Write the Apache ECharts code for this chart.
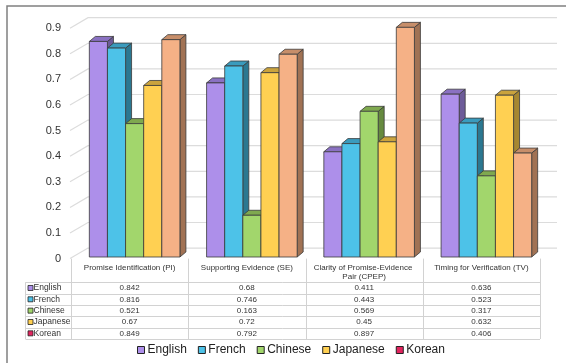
<!DOCTYPE html>
<html>
<head>
<meta charset="utf-8">
<script src="https://cdn.jsdelivr.net/npm/echarts@6/dist/echarts.min.js"></script>
<style>
  html, body { margin: 0; padding: 0; background: #fff; }
  #chart { width: 566px; height: 363px; }
</style>
</head>
<body>
<div id="chart"></div>
<script>
// Categories and scores per language
const categories = [
  'Promise Identification (PI)',
  'Supporting Evidence (SE)',
  'Clarity of Promise-Evidence Pair (CPEP)',
  'Timing for Verification (TV)'
];
const languages = ['English', 'French', 'Chinese', 'Japanese', 'Korean'];
const english  = [0.842, 0.68, 0.411, 0.636];
const french   = [0.816, 0.746, 0.443, 0.523];
const chinese  = [0.521, 0.163, 0.569, 0.317];
const japanese = [0.67, 0.72, 0.45, 0.632];
const korean   = [0.849, 0.792, 0.897, 0.406];
const yTicks   = [0, 0.1, 0.2, 0.3, 0.4, 0.5, 0.6, 0.7, 0.8, 0.9];

const seriesValues = [english, french, chinese, japanese, korean];

// face colours: front, top, side; key = legend / table marker colour
const palette = [
  { front: '#ad8fea', top: '#8a71c2', side: '#6d5b99', key: '#ad8fea' },
  { front: '#4dc2e8', top: '#3a9bbd', side: '#2b7891', key: '#4dc2e8' },
  { front: '#a2d66c', top: '#7fa94f', side: '#668a3f', key: '#a2d66c' },
  { front: '#ffd052', top: '#caa33d', side: '#a68731', key: '#ffd052' },
  { front: '#f5b186', top: '#c78e6a', side: '#a17254', key: '#e2245e' }
];

// 3D geometry
const FLOOR_DX = 17, FLOOR_DY = -10.5;   // floor depth (front edge to back wall)
const BAR_DX = 6, BAR_DY = -5;           // bar depth
const BAR_SHIFT_X = 5, BAR_SHIFT_Y = -1.6;
const BAR_FRAC = 0.1545;                 // bar width as share of category band

const chart = echarts.init(document.getElementById('chart'), null, { renderer: 'canvas' });

function barRenderer(k) {
  return function (params, api) {
    const c = api.value(0);
    const v = api.value(1);
    const base = api.coord([c, 0]);
    const top = api.coord([c, v]);
    const band = api.size([1, 0])[0];
    const w = band * BAR_FRAC;
    const x0 = base[0] - 2.5 * w + k * w + BAR_SHIFT_X;
    const x1 = x0 + w;
    const yb = base[1] + BAR_SHIFT_Y;
    const yt = top[1] + BAR_SHIFT_Y;
    const col = palette[k];
    const edge = { stroke: '#3a3a3a', lineWidth: 0.8, lineJoin: 'round' };
    return {
      type: 'group',
      children: [
        {
          type: 'polygon',
          shape: { points: [[x1, yt], [x1 + BAR_DX, yt + BAR_DY], [x1 + BAR_DX, yb + BAR_DY], [x1, yb]] },
          style: Object.assign({ fill: col.side }, edge)
        },
        {
          type: 'polygon',
          shape: { points: [[x0, yt], [x1, yt], [x1 + BAR_DX, yt + BAR_DY], [x0 + BAR_DX, yt + BAR_DY]] },
          style: Object.assign({ fill: col.top }, edge)
        },
        {
          type: 'rect',
          shape: { x: x0, y: yt, width: w, height: yb - yt },
          style: Object.assign({ fill: col.front }, edge)
        }
      ]
    };
  };
}

// back-wall gridlines with the slanted side-wall segment
function wallRenderer(params, api) {
  const v = api.value(0);
  const cs = params.coordSys;
  const y = api.coord([0, v])[1];
  const xl = cs.x;
  const xr = cs.x + cs.width;
  return {
    type: 'polyline',
    shape: { points: [[xl - 1, y], [xl + FLOOR_DX, y + FLOOR_DY], [xr + FLOOR_DX, y + FLOOR_DY]] },
    style: { stroke: '#dcdcdc', lineWidth: 1.2, fill: null }
  };
}

const series = [{
  type: 'custom',
  name: 'walls',
  silent: true,
  renderItem: wallRenderer,
  data: yTicks.map(t => [t]),
  encode: { y: 0 },
  z: 1
}];
languages.forEach((name, k) => {
  series.push({
    type: 'custom',
    name: name,
    renderItem: barRenderer(k),
    data: seriesValues[k].map((v, i) => [i, v]),
    encode: { x: 0, y: 1 },
    itemStyle: { color: palette[k].key },
    z: 2 + k
  });
});

const option = {
  animation: false,
  backgroundColor: '#ffffff',
  textStyle: { fontFamily: 'Liberation Sans, Arial, sans-serif' },
  grid: { left: 71, right: 26, top: 28.2, bottom: 104.4, containLabel: false },
  xAxis: {
    type: 'category',
    data: categories,
    axisLine: { show: false },
    axisTick: { show: false },
    splitLine: { show: false },
    axisLabel: {
      interval: 0,
      margin: 5,
      color: '#333',
      fontSize: 8,
      lineHeight: 9,
      width: 112,
      overflow: 'break',
      fontFamily: 'Liberation Sans, Arial, sans-serif'
    }
  },
  yAxis: {
    type: 'value',
    min: 0,
    max: 0.9,
    interval: 0.1,
    axisLine: { show: false },
    axisTick: { show: false },
    splitLine: { show: false },
    axisLabel: {
      margin: 10,
      color: '#333',
      fontSize: 11,
      fontFamily: 'Liberation Sans, Arial, sans-serif',
      formatter: v => String(Math.round(v * 10) / 10)
    }
  },
  legend: {
    left: 137,
    top: 344,
    padding: 0,
    icon: 'rect',
    itemWidth: 7,
    itemHeight: 7,
    itemGap: 11,
    textStyle: {
      fontSize: 12, color: '#222', padding: [0, 0, 0, -2],
      fontFamily: 'Liberation Sans, Arial, sans-serif'
    },
    data: languages.map((n, k) => ({
      name: n,
      itemStyle: { color: palette[k].key, borderColor: '#222', borderWidth: 1 }
    }))
  },
  series: series
};

chart.setOption(option);

// data table beneath the plot
function drawTable() {
  const c0 = chart.convertToPixel({ xAxisIndex: 0 }, 0);
  const c1 = chart.convertToPixel({ xAxisIndex: 0 }, 1);
  const band = c1 - c0;
  const left = c0 - band / 2;
  const floorY = chart.convertToPixel({ yAxisIndex: 0 }, 0);
  const rowTop = 282.3, rowH = 11.34;
  const nameLeft = 25.5;
  const right = left + band * categories.length;
  const bottom = rowTop + rowH * languages.length;
  const lineStyle = { stroke: '#d2d2d2', lineWidth: 1 };
  const els = [];

  for (let i = 0; i <= categories.length; i++) {
    const x = Math.round(left + band * i) + 0.5;
    els.push({ type: 'line', shape: { x1: x, y1: floorY, x2: x, y2: bottom }, style: lineStyle, silent: true });
  }
  els.push({ type: 'line', shape: { x1: nameLeft, y1: rowTop, x2: nameLeft, y2: bottom }, style: lineStyle, silent: true });
  for (let r = 0; r <= languages.length; r++) {
    const y = Math.round(rowTop + rowH * r) + 0.5;
    els.push({ type: 'line', shape: { x1: nameLeft, y1: y, x2: right, y2: y }, style: lineStyle, silent: true });
  }

  languages.forEach((name, r) => {
    const cy = rowTop + rowH * (r + 0.5);
    els.push({
      type: 'rect',
      shape: { x: 28, y: cy - 2.5, width: 5, height: 5 },
      style: { fill: palette[r].key, stroke: '#222', lineWidth: 0.8 },
      silent: true
    });
    els.push({
      type: 'text',
      style: {
        x: 33.5, y: cy, text: name, fill: '#333',
        font: '8.5px "Liberation Sans", Arial, sans-serif',
        textAlign: 'left', textVerticalAlign: 'middle'
      },
      silent: true
    });
    seriesValues[r].forEach((v, i) => {
      els.push({
        type: 'text',
        style: {
          x: left + band * (i + 0.5), y: cy, text: String(v), fill: '#333',
          font: '8px "Liberation Sans", Arial, sans-serif',
          textAlign: 'center', textVerticalAlign: 'middle'
        },
        silent: true
      });
    });
  });

  // chart frame
  els.push({
    type: 'rect',
    shape: { x: 7, y: 6, width: 620, height: 420 },
    style: { fill: null, stroke: '#808080', lineWidth: 1.5 },
    silent: true
  });

  chart.setOption({ graphic: els });
}
drawTable();
</script>
</body>
</html>
